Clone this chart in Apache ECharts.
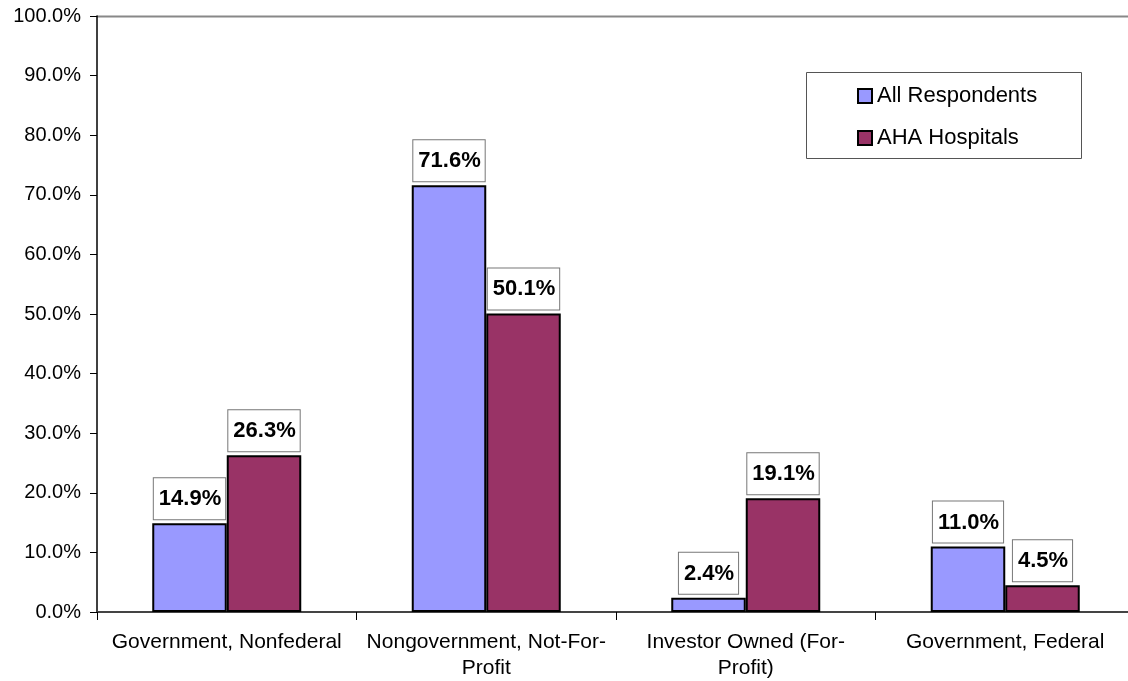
<!DOCTYPE html>
<html>
<head>
<meta charset="utf-8">
<script src="https://cdn.jsdelivr.net/npm/echarts@6/dist/echarts.min.js"></script>
<style>
html,body{margin:0;padding:0;background:#fff;overflow:hidden;}
/* plot area runs slightly past the right edge of the page */
#chart{width:1135px;height:681px;}
</style>
</head>
<body>
<div id="chart"></div>
<script>
const categories = ['Government, Nonfederal', 'Nongovernment, Not-For-\nProfit', 'Investor Owned (For-\nProfit)', 'Government, Federal'];
const allRespondents = [14.9, 71.6, 2.4, 11.0];
const ahaHospitals = [26.3, 50.1, 19.1, 4.5];
const yTicks = [0, 10, 20, 30, 40, 50, 60, 70, 80, 90, 100];

const FONT = '"Liberation Sans", Arial, sans-serif';

const chart = echarts.init(document.getElementById('chart'), null, { renderer: 'canvas' });

// boxed value labels above each bar
const labelStyle = {
  show: true,
  position: 'top',
  distance: 4,
  formatter: p => p.value.toFixed(1) + '%',
  fontFamily: FONT,
  fontSize: 22,
  lineHeight: 22,
  fontWeight: 'bold',
  color: '#000',
  backgroundColor: '#fff',
  borderColor: '#777',
  borderWidth: 1,
  padding: [10, 4, 9, 5]
};

chart.setOption({
  animation: false,
  backgroundColor: '#fff',
  grid: { left: 97, top: 16, right: 0, bottom: 69, containLabel: false },
  legend: {
    orient: 'vertical',
    left: 852,
    top: 80,
    itemWidth: 14,
    itemHeight: 14,
    itemGap: 20,
    icon: 'rect',
    textStyle: { fontFamily: FONT, fontSize: 22, color: '#000' },
    data: ['All Respondents', 'AHA Hospitals']
  },
  graphic: [{
    type: 'rect',
    shape: { x: 806.5, y: 72.5, width: 275, height: 86 },
    style: { fill: 'none', stroke: '#555', lineWidth: 1 },
    z: 10
  }, {
    type: 'line',
    shape: { x1: 97, y1: 16.5, x2: 1135, y2: 16.5 },
    style: { stroke: '#888', lineWidth: 2 }
  }],
  xAxis: {
    type: 'category',
    data: categories,
    axisLine: { lineStyle: { color: '#444', width: 2 } },
    axisTick: { show: true, length: 8, lineStyle: { color: '#000', width: 1 } },
    axisLabel: {
      fontFamily: FONT, fontSize: 21, color: '#000', margin: 17, lineHeight: 26, interval: 0
    },
    splitLine: { show: false }
  },
  yAxis: {
    type: 'value',
    min: 0,
    max: 100,
    interval: 10,
    axisLine: { show: true, lineStyle: { color: '#000', width: 1.5 } },
    axisTick: { show: true, length: 7, inside: false, lineStyle: { color: '#000' } },
    axisLabel: {
      fontFamily: FONT, fontSize: 20, color: '#000', margin: 16,
      formatter: v => yTicks.includes(v) ? v.toFixed(1) + '%' : ''
    },
    splitLine: { show: false }
  },
  series: [{
    name: 'All Respondents',
    type: 'bar',
    data: allRespondents,
    barWidth: 74.5,
    barGap: '0%',
    itemStyle: { color: '#9999FF', borderColor: '#000', borderWidth: 2 },
    label: labelStyle
  }, {
    name: 'AHA Hospitals',
    type: 'bar',
    data: ahaHospitals,
    barWidth: 74.5,
    barGap: '0%',
    itemStyle: { color: '#993366', borderColor: '#000', borderWidth: 2 },
    label: labelStyle
  }]
});
</script>
</body>
</html>
